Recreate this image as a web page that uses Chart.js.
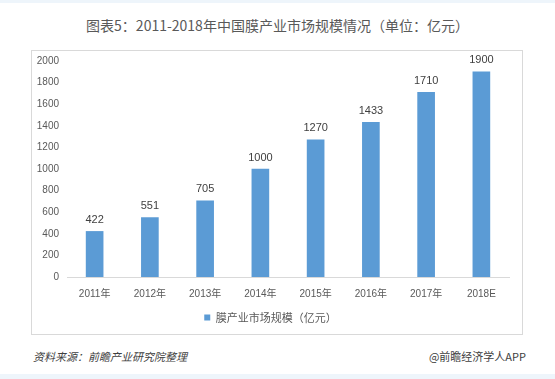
<!DOCTYPE html>
<html>
<head>
<meta charset="utf-8">
<script src="https://cdn.jsdelivr.net/npm/chart.js@4.4.1/dist/chart.umd.min.js"></script>
<style>
  html, body { margin: 0; padding: 0; background: #fff; }
  body { width: 555px; height: 379px; position: relative; overflow: hidden; font-family: "Noto Sans CJK SC", sans-serif; }
  .band-top { position: absolute; left: 0; top: 0; width: 555px; height: 3px; background: #eef5fb; }
  .band-bottom { position: absolute; left: 0; top: 374px; width: 555px; height: 5px; background: #eef5fb; }
  .title { position: absolute; left: 0; width: 555px; top: 15px; text-align: center; font-size: 14px; color: #595959; line-height: 20px; }
  .frame { position: absolute; left: 31px; top: 50px; width: 490px; height: 283px; border: 1px solid #d9d9d9; }
  #chart { position: absolute; left: 32px; top: 51px; }
  .src { position: absolute; left: 33px; top: 348px; font-size: 11px; color: #404040; font-style: italic; line-height: 16px; }
  .app { position: absolute; right: 29px; top: 348px; font-size: 11px; color: #404040; line-height: 16px; }
</style>
</head>
<body>
<div class="band-top"></div>
<div class="title">图表5：2011-2018年中国膜产业市场规模情况（单位：亿元）</div>
<div class="frame"></div>
<canvas id="chart" width="490" height="283"></canvas>
<div class="src">资料来源：前瞻产业研究院整理</div>
<div class="app">@前瞻经济学人APP</div>
<div class="band-bottom"></div>
<script>
// data
const years = ['2011年', '2012年', '2013年', '2014年', '2015年', '2016年', '2017年', '2018E'];
const marketSize = [422, 551, 705, 1000, 1270, 1433, 1710, 1900];
const yTicks = [0, 200, 400, 600, 800, 1000, 1200, 1400, 1600, 1800, 2000];
const seriesName = '膜产业市场规模（亿元）';

// value labels above each bar
const valueLabels = {
    id: 'valueLabels',
    afterDatasetsDraw(chart) {
        const ctx = chart.ctx;
        ctx.save();
        ctx.font = '11px "Liberation Sans", "Noto Sans CJK SC"';
        ctx.fillStyle = '#404040';
        ctx.textAlign = 'center';
        ctx.textBaseline = 'bottom';
        chart.getDatasetMeta(0).data.forEach((bar, i) => {
            ctx.fillText(String(marketSize[i]), bar.x, bar.y - 6);
        });
        ctx.restore();
    }
};

const ctx = document.getElementById('chart').getContext('2d');
new Chart(ctx, {
    type: 'bar',
    data: {
        labels: years,
        datasets: [{
            label: seriesName,
            data: marketSize,
            backgroundColor: '#5b9bd5',
            barThickness: 17
        }]
    },
    options: {
        responsive: false,
        animation: false,
        layout: { padding: { top: 10, right: 13, left: 0, bottom: 1 } },
        plugins: {
            legend: {
                position: 'bottom',
                labels: {
                    color: '#595959',
                    font: { size: 11, family: '"Noto Sans CJK SC"' },
                    boxWidth: 6,
                    boxHeight: 6,
                    padding: 6
                }
            },
            tooltip: { enabled: false }
        },
        scales: {
            y: {
                min: 0,
                max: 2000,
                afterFit(scale) {
                    scale.width = 35;
                    scale.paddingTop = 0;
                    scale.paddingBottom = 0;
                },
                afterBuildTicks(scale) { scale.ticks = yTicks.map(v => ({ value: v })); },
                grid: { display: false, drawTicks: false },
                border: { display: false },
                ticks: {
                    color: '#595959',
                    padding: 8,
                    font: { size: 10, family: '"Liberation Sans"' },
                    callback: v => String(v)
                }
            },
            x: {
                afterFit(scale) { scale.height = 29; },
                grid: { display: false },
                border: { color: '#d9d9d9' },
                ticks: {
                    color: '#595959',
                    padding: 3,
                    font: { size: 10, family: '"Liberation Sans", "Noto Sans CJK SC"' }
                }
            }
        }
    },
    plugins: [valueLabels]
});
</script>
</body>
</html>
